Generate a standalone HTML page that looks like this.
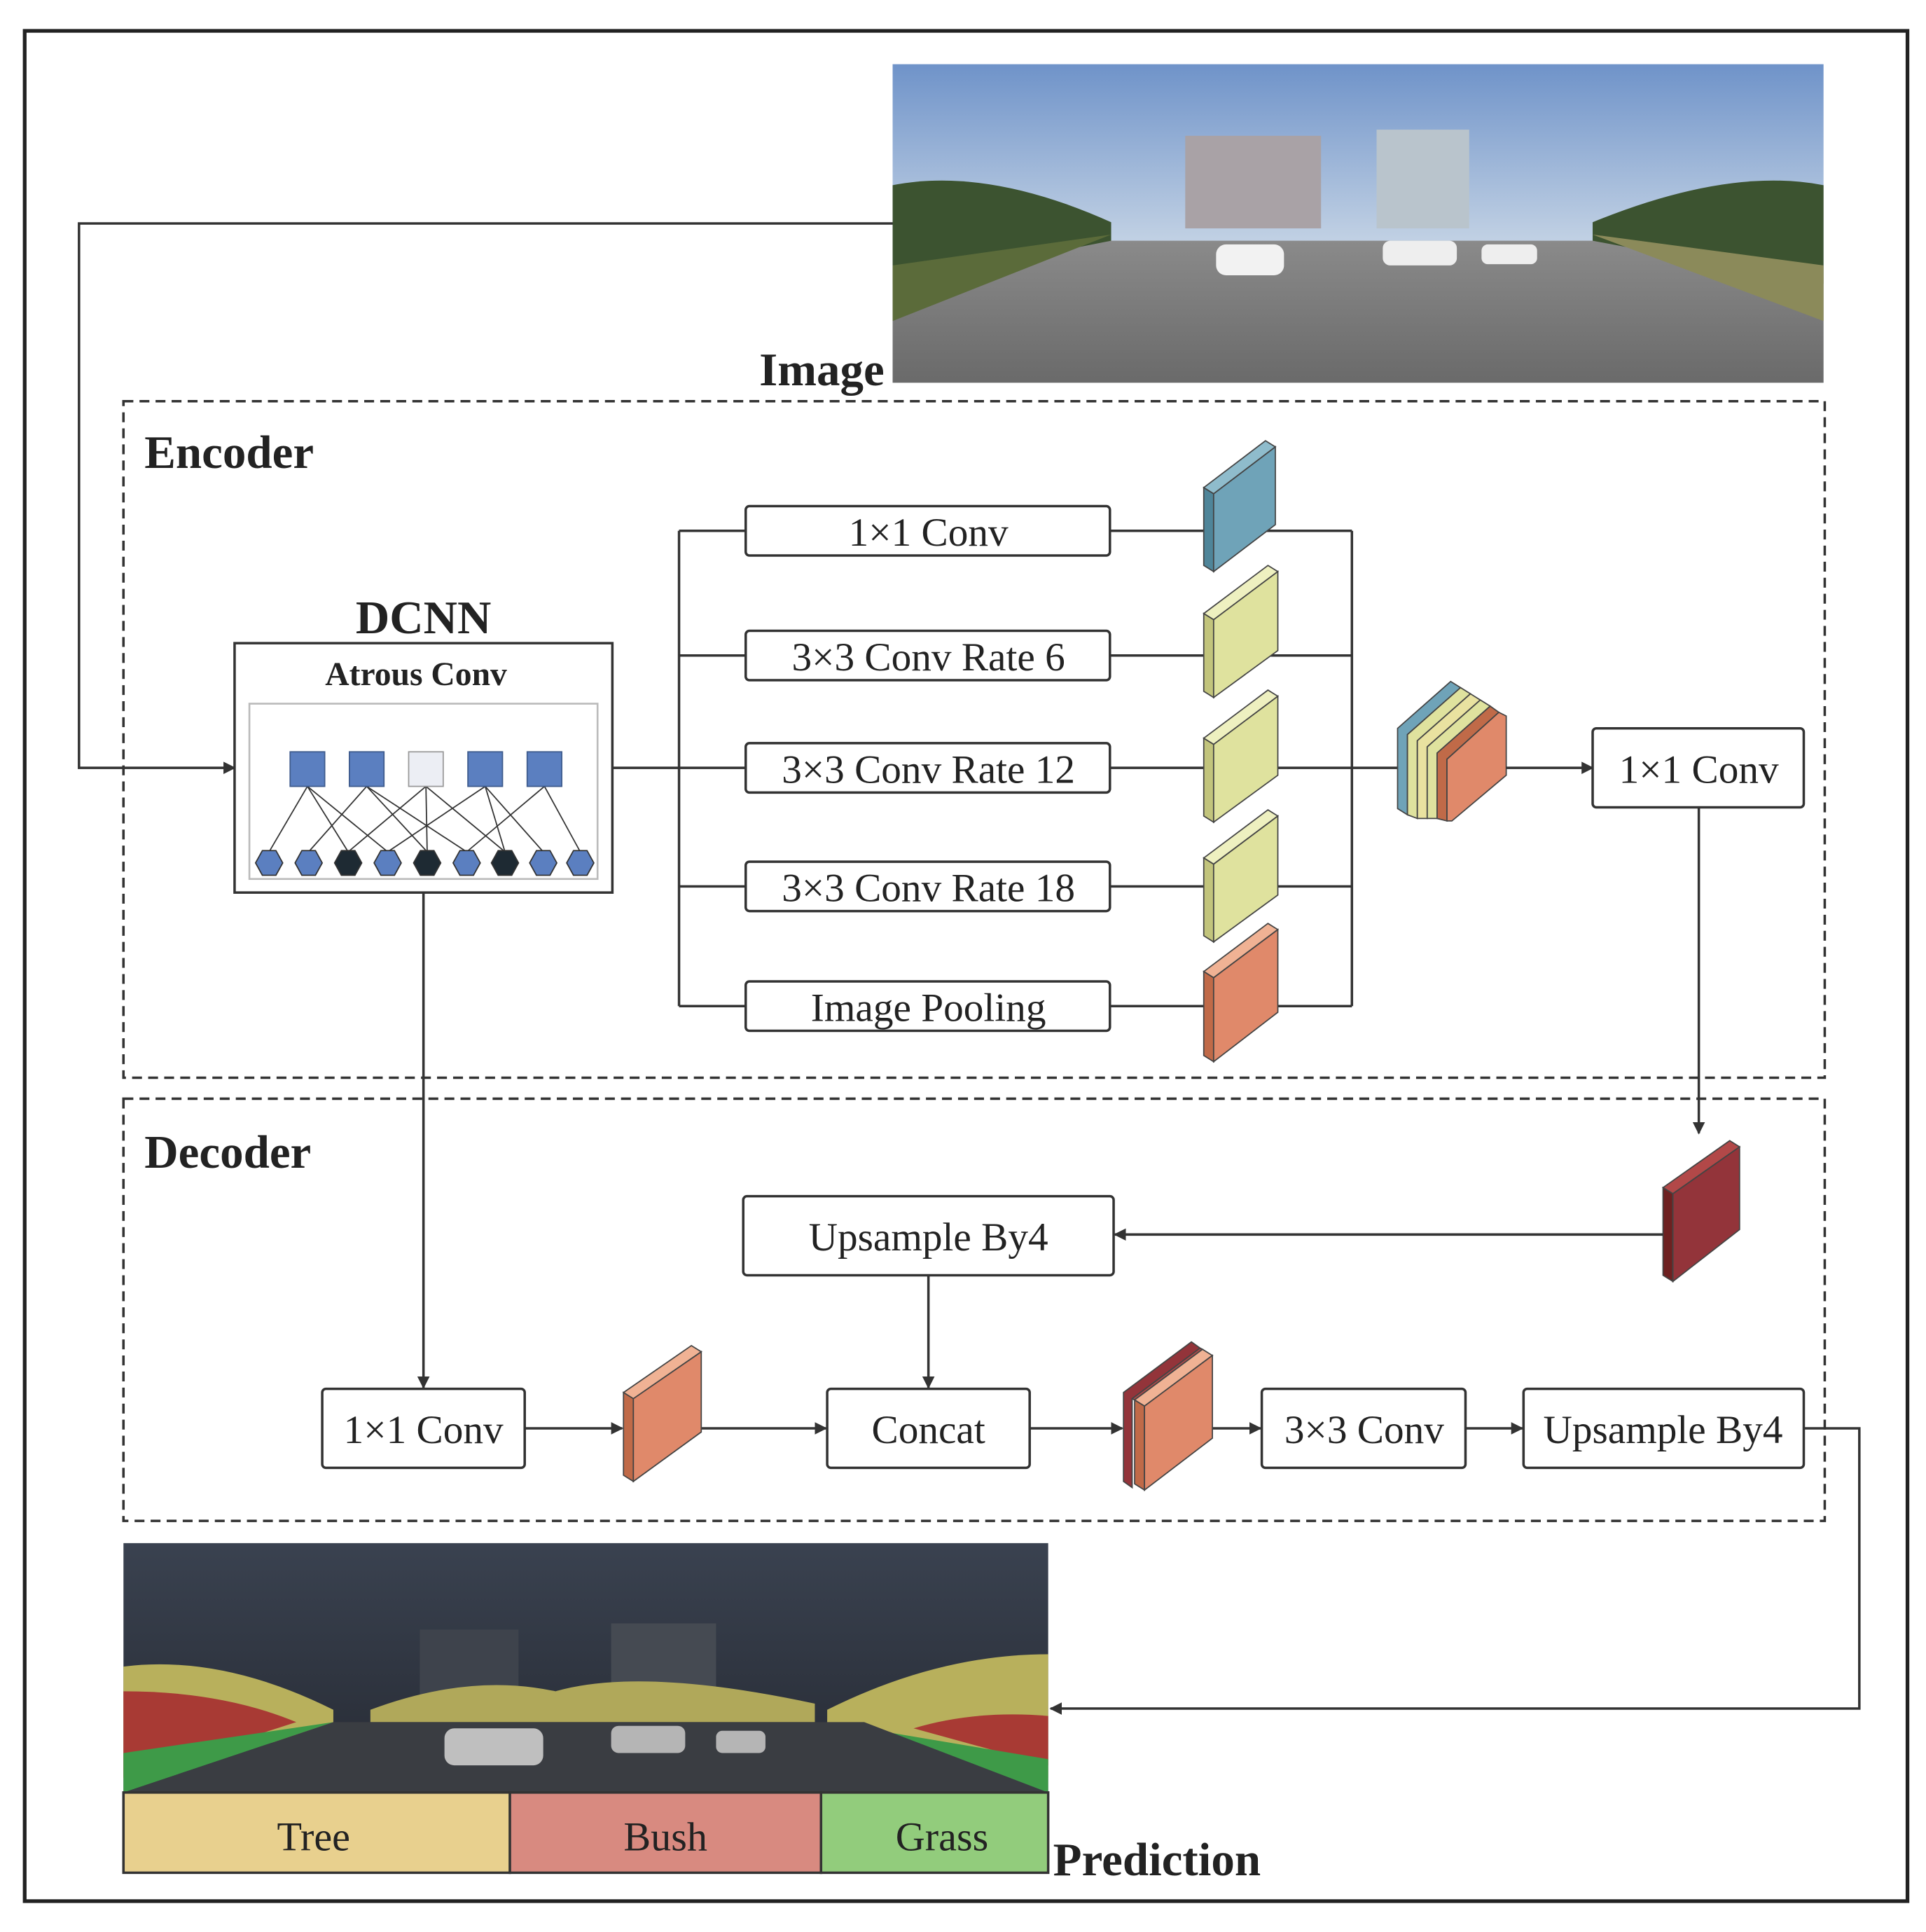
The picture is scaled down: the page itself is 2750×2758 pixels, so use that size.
<!DOCTYPE html>
<html><head><meta charset="utf-8"><style>
html,body{margin:0;padding:0;background:#fff;}
svg{display:block;}
text{font-family:"Liberation Serif",serif;fill:#222;}
.b{font-weight:bold;}
</style></head><body>
<svg width="2750" height="2758" viewBox="0 0 1560 1565" preserveAspectRatio="none" xmlns="http://www.w3.org/2000/svg">
<defs>
<marker id="ar" markerWidth="10" markerHeight="10" refX="9" refY="5" orient="auto" markerUnits="userSpaceOnUse"><path d="M0,0 L10,5 L0,10 z" fill="#333"/></marker>
<linearGradient id="sky" x1="0" y1="0" x2="0" y2="1"><stop offset="0" stop-color="#6f93c9"/><stop offset="0.6" stop-color="#c8d6e6"/><stop offset="1" stop-color="#e6ebef"/></linearGradient>
<linearGradient id="road" x1="0" y1="0" x2="0" y2="1"><stop offset="0" stop-color="#8a8a8a"/><stop offset="1" stop-color="#6a6a6a"/></linearGradient>
<linearGradient id="dsky" x1="0" y1="0" x2="0" y2="1"><stop offset="0" stop-color="#3a4250"/><stop offset="1" stop-color="#262a33"/></linearGradient>
</defs>
<rect x="20" y="25" width="1525" height="1515" fill="none" stroke="#222" stroke-width="3"/>

<rect x="723" y="52" width="754" height="258" fill="url(#sky)"/>
<rect x="960" y="110" width="110" height="75" fill="#a9a2a6"/>
<rect x="1115" y="105" width="75" height="80" fill="#b9c4cc"/>
<path d="M723,150 Q800,135 900,180 L900,200 L723,230 z" fill="#3c5330"/>
<path d="M1477,150 Q1400,135 1290,180 L1290,200 L1477,230 z" fill="#3c5330"/>
<path d="M723,230 L900,195 L1290,195 L1477,230 L1477,310 L723,310 z" fill="url(#road)"/>
<path d="M723,215 L900,190 L723,260 z" fill="#5b6b3a"/>
<path d="M1477,215 L1290,190 L1477,260 z" fill="#8b8a5a"/>
<rect x="985" y="198" width="55" height="25" rx="8" fill="#f2f2f2"/>
<rect x="1120" y="195" width="60" height="20" rx="6" fill="#eee"/>
<rect x="1200" y="198" width="45" height="16" rx="5" fill="#eee"/>
<text x="615" y="312" class="b" font-size="38">Image</text>
<polyline points="723,181 64,181 64,622 190,622" fill="none" stroke="#333" stroke-width="2" marker-end="url(#ar)"/>

<rect x="100" y="325" width="1378" height="548" fill="none" stroke="#333" stroke-width="2" stroke-dasharray="8,5"/>
<text x="117" y="379" class="b" font-size="38">Encoder</text>
<text x="343" y="513" class="b" font-size="38" text-anchor="middle">DCNN</text>
<rect x="190" y="521" width="306" height="202" fill="#fff" stroke="#333" stroke-width="2"/>
<text x="337" y="555" class="b" font-size="27" text-anchor="middle">Atrous Conv</text>
<rect x="202" y="570" width="282" height="142" fill="none" stroke="#bbb" stroke-width="1.5"/>
<g stroke="#333" stroke-width="1">
<line x1="249" y1="637" x2="218" y2="690"/><line x1="249" y1="637" x2="282" y2="690"/><line x1="249" y1="637" x2="314" y2="690"/>
<line x1="297" y1="637" x2="250" y2="690"/><line x1="297" y1="637" x2="346" y2="690"/><line x1="297" y1="637" x2="378" y2="690"/>
<line x1="345" y1="637" x2="282" y2="690"/><line x1="345" y1="637" x2="346" y2="690"/><line x1="345" y1="637" x2="409" y2="690"/>
<line x1="393" y1="637" x2="314" y2="690"/><line x1="393" y1="637" x2="409" y2="690"/><line x1="393" y1="637" x2="440" y2="690"/>
<line x1="441" y1="637" x2="378" y2="690"/><line x1="441" y1="637" x2="470" y2="690"/>
</g>
<g stroke="#3d5a8c" stroke-width="1">
<rect x="235" y="609" width="28" height="28" fill="#5b7fc0"/>
<rect x="283" y="609" width="28" height="28" fill="#5b7fc0"/>
<rect x="331" y="609" width="28" height="28" fill="#eceef4" stroke="#999"/>
<rect x="379" y="609" width="28" height="28" fill="#5b7fc0"/>
<rect x="427" y="609" width="28" height="28" fill="#5b7fc0"/>
</g>
<g stroke="#333" stroke-width="1">
<g transform="translate(218,699)"><polygon points="-11,0 -5.5,-10 5.5,-10 11,0 5.5,10 -5.5,10" fill="#5b7fc0"/></g>
<g transform="translate(250,699)"><polygon points="-11,0 -5.5,-10 5.5,-10 11,0 5.5,10 -5.5,10" fill="#5b7fc0"/></g>
<g transform="translate(282,699)"><polygon points="-11,0 -5.5,-10 5.5,-10 11,0 5.5,10 -5.5,10" fill="#1e2a33"/></g>
<g transform="translate(314,699)"><polygon points="-11,0 -5.5,-10 5.5,-10 11,0 5.5,10 -5.5,10" fill="#5b7fc0"/></g>
<g transform="translate(346,699)"><polygon points="-11,0 -5.5,-10 5.5,-10 11,0 5.5,10 -5.5,10" fill="#1e2a33"/></g>
<g transform="translate(378,699)"><polygon points="-11,0 -5.5,-10 5.5,-10 11,0 5.5,10 -5.5,10" fill="#5b7fc0"/></g>
<g transform="translate(409,699)"><polygon points="-11,0 -5.5,-10 5.5,-10 11,0 5.5,10 -5.5,10" fill="#1e2a33"/></g>
<g transform="translate(440,699)"><polygon points="-11,0 -5.5,-10 5.5,-10 11,0 5.5,10 -5.5,10" fill="#5b7fc0"/></g>
<g transform="translate(470,699)"><polygon points="-11,0 -5.5,-10 5.5,-10 11,0 5.5,10 -5.5,10" fill="#5b7fc0"/></g>
</g>

<g fill="none" stroke="#333" stroke-width="2">
<line x1="496" y1="622" x2="550" y2="622"/>
<line x1="550" y1="430" x2="550" y2="815"/>
<line x1="550" y1="430" x2="604" y2="430"/><line x1="550" y1="531" x2="604" y2="531"/><line x1="550" y1="622" x2="604" y2="622"/><line x1="550" y1="718" x2="604" y2="718"/><line x1="550" y1="815" x2="604" y2="815"/>
<line x1="899" y1="430" x2="1095" y2="430"/><line x1="899" y1="531" x2="1095" y2="531"/><line x1="899" y1="622" x2="1095" y2="622"/><line x1="899" y1="718" x2="1095" y2="718"/><line x1="899" y1="815" x2="1095" y2="815"/>
<line x1="1095" y1="430" x2="1095" y2="815"/>
<line x1="1095" y1="622" x2="1132" y2="622"/>
</g>
<g fill="#fff" stroke="#333" stroke-width="2">
<rect x="604" y="410" width="295" height="40" rx="3"/>
<rect x="604" y="511" width="295" height="40" rx="3"/>
<rect x="604" y="602" width="295" height="40" rx="3"/>
<rect x="604" y="698" width="295" height="40" rx="3"/>
<rect x="604" y="795" width="295" height="40" rx="3"/>
</g>
<g font-size="32.5" text-anchor="middle">
<text x="752" y="442">1×1 Conv</text>
<text x="752" y="543">3×3 Conv Rate 6</text>
<text x="752" y="634">3×3 Conv Rate 12</text>
<text x="752" y="730">3×3 Conv Rate 18</text>
<text x="752" y="827">Image Pooling</text>
</g>
<g stroke="#444" stroke-width="1">
<polygon points="975,395 1025,357 1033,362 983,400" fill="#8fbccc"/><polygon points="975,395 983,400 983,463 975,458" fill="#4f8599"/><polygon points="983,400 1033,362 1033,425 983,463" fill="#6fa3b8"/>
<polygon points="975,497 1027,458 1035,463 983,502" fill="#eef0c0"/><polygon points="975,497 983,502 983,565 975,560" fill="#c2c47c"/><polygon points="983,502 1035,463 1035,527 983,565" fill="#dfe29e"/>
<polygon points="975,598 1027,559 1035,564 983,603" fill="#eef0c0"/><polygon points="975,598 983,603 983,666 975,661" fill="#c2c47c"/><polygon points="983,603 1035,564 1035,628 983,666" fill="#dfe29e"/>
<polygon points="975,695 1027,656 1035,661 983,700" fill="#eef0c0"/><polygon points="975,695 983,700 983,763 975,758" fill="#c2c47c"/><polygon points="983,700 1035,661 1035,725 983,763" fill="#dfe29e"/>
<polygon points="975,787 1027,748 1035,753 983,792" fill="#f0b294"/><polygon points="975,787 983,792 983,860 975,855" fill="#c06a48"/><polygon points="983,792 1035,753 1035,820 983,860" fill="#e0896a"/>
</g>
<g stroke="#444" stroke-width="1">
<polygon points="1132,590 1175,552 1183,557 1140,595 1140,660 1132,655" fill="#6fa3b8"/>
<polygon points="1140,595 1183,557 1191,562 1148,600 1148,663 1140,660" fill="#dfe29e"/>
<polygon points="1148,600 1191,562 1199,567 1156,605 1156,663 1148,663" fill="#e9e2a0"/>
<polygon points="1156,605 1199,567 1207,572 1164,610 1164,663 1156,663" fill="#dfe29e"/>
<polygon points="1164,610 1207,572 1214,577 1172,615 1172,665 1164,663" fill="#c06a48"/>
<polygon points="1172,615 1214,577 1220,580 1220,628 1176,665 1172,665" fill="#e0896a"/>
</g>
<line x1="1220" y1="622" x2="1290" y2="622" stroke="#333" stroke-width="2" marker-end="url(#ar)"/>
<rect x="1290" y="590" width="171" height="64" rx="3" fill="#fff" stroke="#333" stroke-width="2"/>
<text x="1376" y="634" font-size="32.5" text-anchor="middle">1×1 Conv</text>
<line x1="1376" y1="654" x2="1376" y2="918" stroke="#333" stroke-width="2" marker-end="url(#ar)"/>

<rect x="100" y="890" width="1378" height="342" fill="none" stroke="#333" stroke-width="2" stroke-dasharray="8,5"/>
<text x="117" y="946" class="b" font-size="38">Decoder</text>
<g stroke="#444" stroke-width="1">
<polygon points="1347,962 1401,924 1409,929 1355,967" fill="#b24848"/><polygon points="1347,962 1355,967 1355,1038 1347,1033" fill="#6e2020"/><polygon points="1355,967 1409,929 1409,996 1355,1038" fill="#93343a"/>
</g>
<line x1="1347" y1="1000" x2="903" y2="1000" stroke="#333" stroke-width="2" marker-end="url(#ar)"/>
<rect x="602" y="969" width="300" height="64" rx="3" fill="#fff" stroke="#333" stroke-width="2"/>
<text x="752" y="1013" font-size="32.5" text-anchor="middle">Upsample By4</text>
<line x1="752" y1="1033" x2="752" y2="1124" stroke="#333" stroke-width="2" marker-end="url(#ar)"/>
<line x1="343" y1="723" x2="343" y2="1124" stroke="#333" stroke-width="2" marker-end="url(#ar)"/>
<g fill="#fff" stroke="#333" stroke-width="2">
<rect x="261" y="1125" width="164" height="64" rx="3"/>
<rect x="670" y="1125" width="164" height="64" rx="3"/>
<rect x="1022" y="1125" width="165" height="64" rx="3"/>
<rect x="1234" y="1125" width="227" height="64" rx="3"/>
</g>
<g font-size="32.5" text-anchor="middle">
<text x="343" y="1169">1×1 Conv</text>
<text x="752" y="1169">Concat</text>
<text x="1105" y="1169">3×3 Conv</text>
<text x="1347" y="1169">Upsample By4</text>
</g>
<g stroke="#333" stroke-width="2" marker-end="url(#ar)">
<line x1="425" y1="1157" x2="504" y2="1157"/>
<line x1="568" y1="1157" x2="669" y2="1157"/>
<line x1="834" y1="1157" x2="909" y2="1157"/>
<line x1="982" y1="1157" x2="1021" y2="1157"/>
<line x1="1187" y1="1157" x2="1233" y2="1157"/>
</g>
<g stroke="#444" stroke-width="1">
<polygon points="505,1128 560,1090 568,1095 513,1133" fill="#f0b294"/><polygon points="505,1128 513,1133 513,1200 505,1195" fill="#c06a48"/><polygon points="513,1133 568,1095 568,1160 513,1200" fill="#e0896a"/>
<polygon points="910,1128 965,1087 972,1092 917,1133 917,1205 910,1200" fill="#93343a"/>
<polygon points="917,1133 972,1092 974,1093 919,1134" fill="#b24848"/>
<polygon points="919,1134 974,1093 982,1098 927,1139" fill="#f0b294"/><polygon points="919,1134 927,1139 927,1207 919,1202" fill="#c06a48"/><polygon points="927,1139 982,1098 982,1165 927,1207" fill="#e0896a"/>
</g>
<polyline points="1461,1157 1506,1157 1506,1384 851,1384" fill="none" stroke="#333" stroke-width="2" marker-end="url(#ar)"/>

<rect x="100" y="1250" width="749" height="202" fill="url(#dsky)"/>
<rect x="340" y="1320" width="80" height="60" fill="#3e434c"/>
<rect x="495" y="1315" width="85" height="65" fill="#454a52"/>
<path d="M100,1350 Q180,1340 270,1385 L270,1400 L100,1440 z" fill="#b8b05c"/>
<path d="M100,1370 Q180,1370 240,1395 L100,1440 z" fill="#a83a34"/>
<path d="M100,1420 L270,1395 L100,1452 z" fill="#3e9a48"/>
<path d="M300,1385 Q380,1355 450,1370 Q520,1350 660,1380 L660,1395 L300,1395 z" fill="#b0a85a"/>
<path d="M849,1340 Q760,1340 670,1385 L670,1400 L849,1440 z" fill="#b8b05c"/>
<path d="M849,1390 Q790,1385 740,1400 L849,1430 z" fill="#a83a34"/>
<path d="M849,1425 L700,1400 L849,1452 z" fill="#3e9a48"/>
<path d="M270,1395 L700,1395 L849,1452 L100,1452 z" fill="#3a3d42"/>
<rect x="360" y="1400" width="80" height="30" rx="8" fill="#bfbfbf"/>
<rect x="495" y="1398" width="60" height="22" rx="6" fill="#b5b5b5"/>
<rect x="580" y="1402" width="40" height="18" rx="5" fill="#b5b5b5"/>
<g stroke="#333" stroke-width="2">
<rect x="100" y="1452" width="313" height="65" fill="#e8d08e"/>
<rect x="413" y="1452" width="252" height="65" fill="#d88a80"/>
<rect x="665" y="1452" width="184" height="65" fill="#92cc7c"/>
</g>
<g font-size="33" text-anchor="middle">
<text x="254" y="1499">Tree</text>
<text x="539" y="1499">Bush</text>
<text x="763" y="1499">Grass</text>
</g>
<text x="853" y="1519" class="b" font-size="38">Prediction</text>
</svg>
</body></html>
